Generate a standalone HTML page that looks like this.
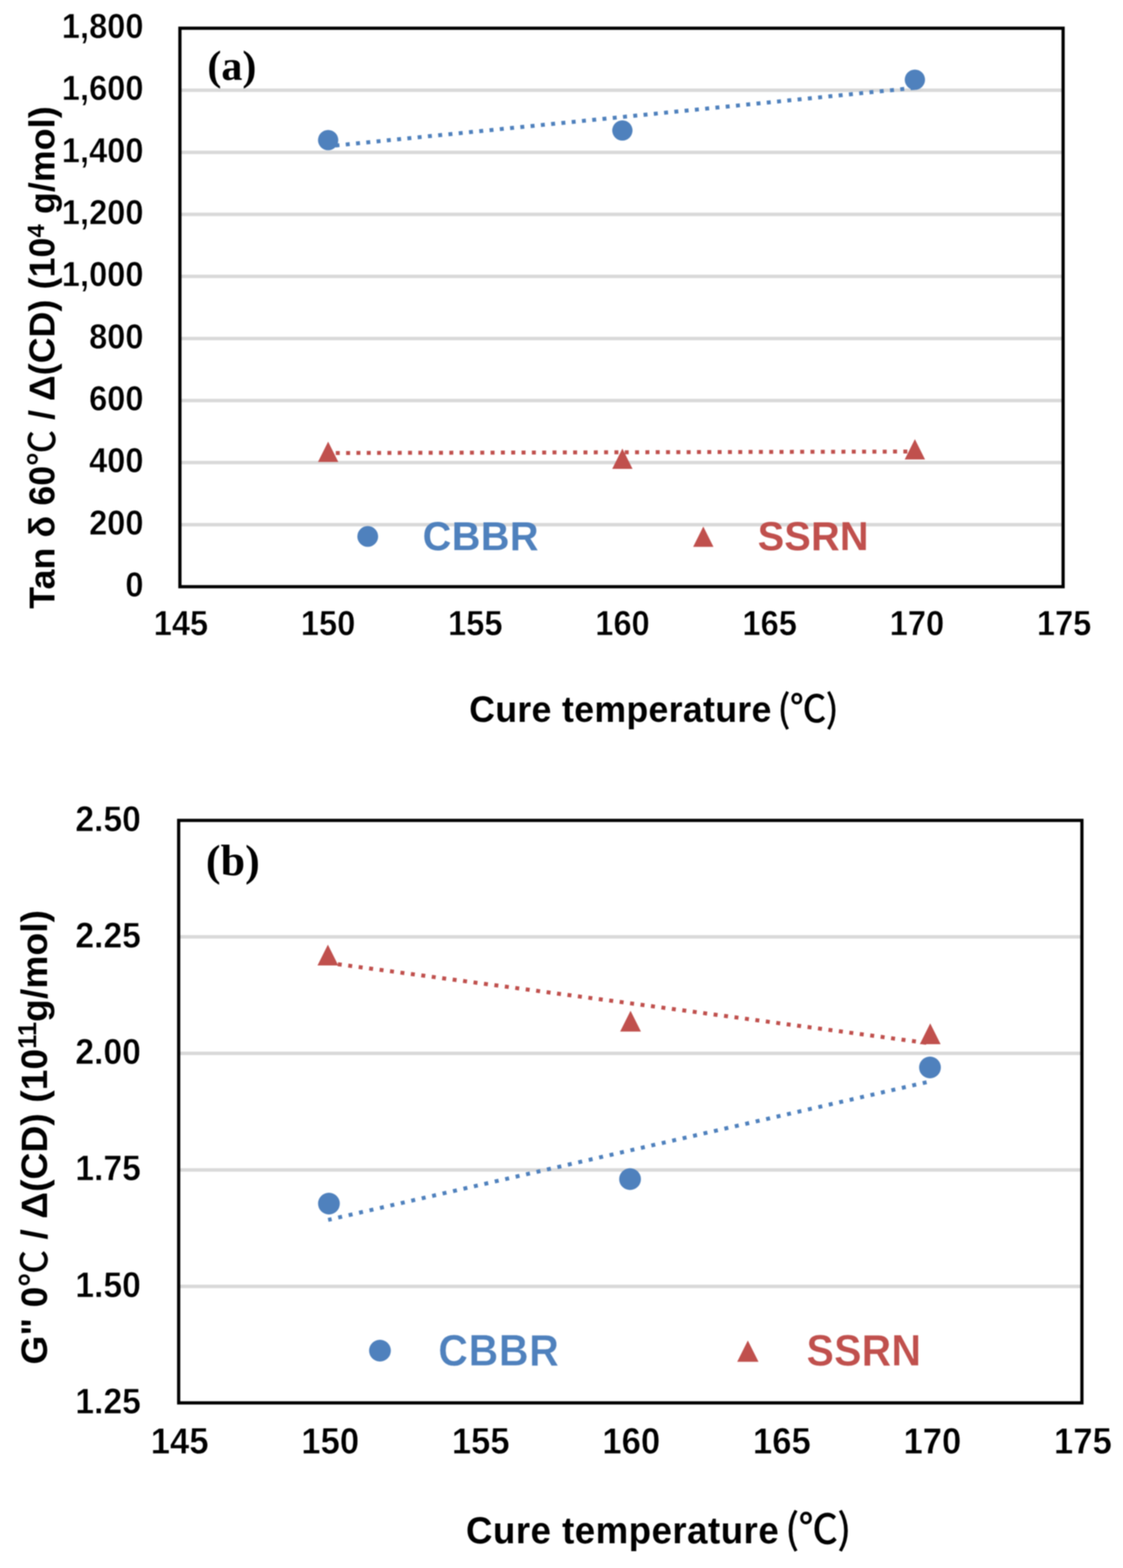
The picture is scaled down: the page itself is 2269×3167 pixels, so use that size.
<!DOCTYPE html>
<html><head><meta charset="utf-8"><title>Cure temperature charts</title>
<style>html,body{margin:0;padding:0;background:#fff;overflow:hidden;}svg{display:block;filter:blur(0.9px);}</style></head>
<body><svg width="2269" height="3167" viewBox="0 0 2269 3167">
<rect width="2269" height="3167" fill="#fff"/>
<line x1="363.5" y1="1059.67" x2="2148" y2="1059.67" stroke="#d9d9d9" stroke-width="7"/>
<line x1="363.5" y1="934.33" x2="2148" y2="934.33" stroke="#d9d9d9" stroke-width="7"/>
<line x1="363.5" y1="809.00" x2="2148" y2="809.00" stroke="#d9d9d9" stroke-width="7"/>
<line x1="363.5" y1="683.67" x2="2148" y2="683.67" stroke="#d9d9d9" stroke-width="7"/>
<line x1="363.5" y1="558.33" x2="2148" y2="558.33" stroke="#d9d9d9" stroke-width="7"/>
<line x1="363.5" y1="433.00" x2="2148" y2="433.00" stroke="#d9d9d9" stroke-width="7"/>
<line x1="363.5" y1="307.67" x2="2148" y2="307.67" stroke="#d9d9d9" stroke-width="7"/>
<line x1="363.5" y1="182.33" x2="2148" y2="182.33" stroke="#d9d9d9" stroke-width="7"/>
<rect x="363.5" y="57" width="1784.5" height="1128" fill="none" stroke="#000" stroke-width="6.5"/>
<text transform="translate(290.00,1205.00) scale(1,1.06)" font-family="Liberation Sans, Arial, Helvetica, sans-serif" font-weight="bold" font-size="66" text-anchor="end" fill="#000" stroke="#fff" stroke-width="0.8" stroke-linejoin="round">0</text>
<text transform="translate(290.00,1079.67) scale(1,1.06)" font-family="Liberation Sans, Arial, Helvetica, sans-serif" font-weight="bold" font-size="66" text-anchor="end" fill="#000" stroke="#fff" stroke-width="0.8" stroke-linejoin="round">200</text>
<text transform="translate(290.00,954.33) scale(1,1.06)" font-family="Liberation Sans, Arial, Helvetica, sans-serif" font-weight="bold" font-size="66" text-anchor="end" fill="#000" stroke="#fff" stroke-width="0.8" stroke-linejoin="round">400</text>
<text transform="translate(290.00,829.00) scale(1,1.06)" font-family="Liberation Sans, Arial, Helvetica, sans-serif" font-weight="bold" font-size="66" text-anchor="end" fill="#000" stroke="#fff" stroke-width="0.8" stroke-linejoin="round">600</text>
<text transform="translate(290.00,703.67) scale(1,1.06)" font-family="Liberation Sans, Arial, Helvetica, sans-serif" font-weight="bold" font-size="66" text-anchor="end" fill="#000" stroke="#fff" stroke-width="0.8" stroke-linejoin="round">800</text>
<text transform="translate(290.00,578.33) scale(1,1.06)" font-family="Liberation Sans, Arial, Helvetica, sans-serif" font-weight="bold" font-size="66" text-anchor="end" fill="#000" stroke="#fff" stroke-width="0.8" stroke-linejoin="round">1,000</text>
<text transform="translate(290.00,453.00) scale(1,1.06)" font-family="Liberation Sans, Arial, Helvetica, sans-serif" font-weight="bold" font-size="66" text-anchor="end" fill="#000" stroke="#fff" stroke-width="0.8" stroke-linejoin="round">1,200</text>
<text transform="translate(290.00,327.67) scale(1,1.06)" font-family="Liberation Sans, Arial, Helvetica, sans-serif" font-weight="bold" font-size="66" text-anchor="end" fill="#000" stroke="#fff" stroke-width="0.8" stroke-linejoin="round">1,400</text>
<text transform="translate(290.00,202.33) scale(1,1.06)" font-family="Liberation Sans, Arial, Helvetica, sans-serif" font-weight="bold" font-size="66" text-anchor="end" fill="#000" stroke="#fff" stroke-width="0.8" stroke-linejoin="round">1,600</text>
<text transform="translate(290.00,77.00) scale(1,1.06)" font-family="Liberation Sans, Arial, Helvetica, sans-serif" font-weight="bold" font-size="66" text-anchor="end" fill="#000" stroke="#fff" stroke-width="0.8" stroke-linejoin="round">1,800</text>
<text transform="translate(365.50,1283.00) scale(1,1.06)" font-family="Liberation Sans, Arial, Helvetica, sans-serif" font-weight="bold" font-size="66" text-anchor="middle" fill="#000" stroke="#fff" stroke-width="0.8" stroke-linejoin="round">145</text>
<text transform="translate(662.92,1283.00) scale(1,1.06)" font-family="Liberation Sans, Arial, Helvetica, sans-serif" font-weight="bold" font-size="66" text-anchor="middle" fill="#000" stroke="#fff" stroke-width="0.8" stroke-linejoin="round">150</text>
<text transform="translate(960.33,1283.00) scale(1,1.06)" font-family="Liberation Sans, Arial, Helvetica, sans-serif" font-weight="bold" font-size="66" text-anchor="middle" fill="#000" stroke="#fff" stroke-width="0.8" stroke-linejoin="round">155</text>
<text transform="translate(1257.75,1283.00) scale(1,1.06)" font-family="Liberation Sans, Arial, Helvetica, sans-serif" font-weight="bold" font-size="66" text-anchor="middle" fill="#000" stroke="#fff" stroke-width="0.8" stroke-linejoin="round">160</text>
<text transform="translate(1555.17,1283.00) scale(1,1.06)" font-family="Liberation Sans, Arial, Helvetica, sans-serif" font-weight="bold" font-size="66" text-anchor="middle" fill="#000" stroke="#fff" stroke-width="0.8" stroke-linejoin="round">165</text>
<text transform="translate(1852.58,1283.00) scale(1,1.06)" font-family="Liberation Sans, Arial, Helvetica, sans-serif" font-weight="bold" font-size="66" text-anchor="middle" fill="#000" stroke="#fff" stroke-width="0.8" stroke-linejoin="round">170</text>
<text transform="translate(2150.00,1283.00) scale(1,1.06)" font-family="Liberation Sans, Arial, Helvetica, sans-serif" font-weight="bold" font-size="66" text-anchor="middle" fill="#000" stroke="#fff" stroke-width="0.8" stroke-linejoin="round">175</text>
<line x1="663" y1="295.4" x2="1849" y2="177.4" stroke="#4f81bd" stroke-width="8" stroke-dasharray="8 12.85" stroke-dashoffset="5.9"/>
<line x1="663" y1="915" x2="1849" y2="912" stroke="#c0504d" stroke-width="8" stroke-dasharray="8 12.85" stroke-dashoffset="5.35"/>
<circle cx="663" cy="283" r="20.5" fill="#4f81bd"/>
<circle cx="1257.5" cy="263.5" r="20.5" fill="#4f81bd"/>
<circle cx="1848.5" cy="161" r="20.5" fill="#4f81bd"/>
<polygon points="642.5,933.0 663,892.0 683.5,933.0" fill="#c0504d"/>
<polygon points="1237.0,947.0 1257.5,906.0 1278.0,947.0" fill="#c0504d"/>
<polygon points="1828.0,928.0 1848.5,887.0 1869.0,928.0" fill="#c0504d"/>
<circle cx="743" cy="1083.5" r="21" fill="#4f81bd"/>
<polygon points="1400.5,1104.5 1421,1063.5 1441.5,1104.5" fill="#c0504d"/>
<text transform="translate(854.00,1110.50) scale(1,1.03)" font-family="Liberation Sans, Arial, Helvetica, sans-serif" font-weight="bold" font-size="80" text-anchor="start" fill="#4f81bd" letter-spacing="1.0">CBBR</text>
<text transform="translate(1531.00,1110.50) scale(1,1.03)" font-family="Liberation Sans, Arial, Helvetica, sans-serif" font-weight="bold" font-size="80" text-anchor="start" fill="#c0504d" letter-spacing="0.5">SSRN</text>
<text x="419" y="161" font-family="Liberation Serif, Times New Roman, serif" font-weight="bold" font-size="85">(a)</text>
<text transform="translate(948,1457.5) scale(1,1.03)" font-family="Liberation Sans, Arial, Helvetica, sans-serif" font-weight="bold" font-size="72" letter-spacing="0.7">Cure temperature <tspan font-family="Noto Sans CJK SC, Noto Sans CJK JP, WenQuanYi Zen Hei, sans-serif" font-weight="normal" font-size="73" letter-spacing="0" dx="-8.5" stroke="#000" stroke-width="1.5">(℃)</tspan></text>
<text transform="translate(110,1229.5) rotate(-90)" font-family="Liberation Sans, Arial, Helvetica, sans-serif" font-weight="bold" font-size="72" letter-spacing="0.3">Tan δ 60<tspan font-family="Noto Sans CJK SC, Noto Sans CJK JP, WenQuanYi Zen Hei, sans-serif" font-weight="normal" font-size="72" stroke="#000" stroke-width="1.2">℃</tspan> / Δ(CD) (10<tspan font-size="48" dy="-21">4</tspan><tspan dy="21"> g/mol)</tspan></text>
<line x1="361" y1="2598.20" x2="2186" y2="2598.20" stroke="#d9d9d9" stroke-width="7"/>
<line x1="361" y1="2362.90" x2="2186" y2="2362.90" stroke="#d9d9d9" stroke-width="7"/>
<line x1="361" y1="2127.60" x2="2186" y2="2127.60" stroke="#d9d9d9" stroke-width="7"/>
<line x1="361" y1="1892.30" x2="2186" y2="1892.30" stroke="#d9d9d9" stroke-width="7"/>
<rect x="361" y="1657" width="1825" height="1176.5" fill="none" stroke="#000" stroke-width="6.5"/>
<text transform="translate(284.50,2855.00) scale(1,1.07)" font-family="Liberation Sans, Arial, Helvetica, sans-serif" font-weight="bold" font-size="68" text-anchor="end" fill="#000" stroke="#fff" stroke-width="0.8" stroke-linejoin="round">1.25</text>
<text transform="translate(284.50,2619.70) scale(1,1.07)" font-family="Liberation Sans, Arial, Helvetica, sans-serif" font-weight="bold" font-size="68" text-anchor="end" fill="#000" stroke="#fff" stroke-width="0.8" stroke-linejoin="round">1.50</text>
<text transform="translate(284.50,2384.40) scale(1,1.07)" font-family="Liberation Sans, Arial, Helvetica, sans-serif" font-weight="bold" font-size="68" text-anchor="end" fill="#000" stroke="#fff" stroke-width="0.8" stroke-linejoin="round">1.75</text>
<text transform="translate(284.50,2149.10) scale(1,1.07)" font-family="Liberation Sans, Arial, Helvetica, sans-serif" font-weight="bold" font-size="68" text-anchor="end" fill="#000" stroke="#fff" stroke-width="0.8" stroke-linejoin="round">2.00</text>
<text transform="translate(284.50,1913.80) scale(1,1.07)" font-family="Liberation Sans, Arial, Helvetica, sans-serif" font-weight="bold" font-size="68" text-anchor="end" fill="#000" stroke="#fff" stroke-width="0.8" stroke-linejoin="round">2.25</text>
<text transform="translate(284.50,1678.50) scale(1,1.07)" font-family="Liberation Sans, Arial, Helvetica, sans-serif" font-weight="bold" font-size="68" text-anchor="end" fill="#000" stroke="#fff" stroke-width="0.8" stroke-linejoin="round">2.50</text>
<text transform="translate(363.00,2936.00) scale(1,1.07)" font-family="Liberation Sans, Arial, Helvetica, sans-serif" font-weight="bold" font-size="70" text-anchor="middle" fill="#000" stroke="#fff" stroke-width="0.8" stroke-linejoin="round">145</text>
<text transform="translate(667.17,2936.00) scale(1,1.07)" font-family="Liberation Sans, Arial, Helvetica, sans-serif" font-weight="bold" font-size="70" text-anchor="middle" fill="#000" stroke="#fff" stroke-width="0.8" stroke-linejoin="round">150</text>
<text transform="translate(971.33,2936.00) scale(1,1.07)" font-family="Liberation Sans, Arial, Helvetica, sans-serif" font-weight="bold" font-size="70" text-anchor="middle" fill="#000" stroke="#fff" stroke-width="0.8" stroke-linejoin="round">155</text>
<text transform="translate(1275.50,2936.00) scale(1,1.07)" font-family="Liberation Sans, Arial, Helvetica, sans-serif" font-weight="bold" font-size="70" text-anchor="middle" fill="#000" stroke="#fff" stroke-width="0.8" stroke-linejoin="round">160</text>
<text transform="translate(1579.67,2936.00) scale(1,1.07)" font-family="Liberation Sans, Arial, Helvetica, sans-serif" font-weight="bold" font-size="70" text-anchor="middle" fill="#000" stroke="#fff" stroke-width="0.8" stroke-linejoin="round">165</text>
<text transform="translate(1883.83,2936.00) scale(1,1.07)" font-family="Liberation Sans, Arial, Helvetica, sans-serif" font-weight="bold" font-size="70" text-anchor="middle" fill="#000" stroke="#fff" stroke-width="0.8" stroke-linejoin="round">170</text>
<text transform="translate(2188.00,2936.00) scale(1,1.07)" font-family="Liberation Sans, Arial, Helvetica, sans-serif" font-weight="bold" font-size="70" text-anchor="middle" fill="#000" stroke="#fff" stroke-width="0.8" stroke-linejoin="round">175</text>
<line x1="663" y1="2463.9" x2="1880" y2="2184" stroke="#4f81bd" stroke-width="8" stroke-dasharray="8 13.64" stroke-dashoffset="0.75"/>
<line x1="664" y1="1945" x2="1880" y2="2107.5" stroke="#c0504d" stroke-width="8" stroke-dasharray="8 13.28" stroke-dashoffset="2.58"/>
<circle cx="664.6" cy="2431" r="22" fill="#4f81bd"/>
<circle cx="1273" cy="2381.5" r="22" fill="#4f81bd"/>
<circle cx="1879" cy="2156" r="22" fill="#4f81bd"/>
<polygon points="641.5,1950.0 662.5,1908.0 683.5,1950.0" fill="#c0504d"/>
<polygon points="1253.0,2083.5 1274,2041.5 1295.0,2083.5" fill="#c0504d"/>
<polygon points="1858.5,2109.0 1879.5,2067.0 1900.5,2109.0" fill="#c0504d"/>
<circle cx="767.7" cy="2728" r="22" fill="#4f81bd"/>
<polygon points="1489.5,2750.5 1511,2707.5 1532.5,2750.5" fill="#c0504d"/>
<text transform="translate(885.50,2757.50) scale(1,1.07)" font-family="Liberation Sans, Arial, Helvetica, sans-serif" font-weight="bold" font-size="83" text-anchor="start" fill="#4f81bd" stroke="#fff" stroke-width="0.6" stroke-linejoin="round" letter-spacing="1.3">CBBR</text>
<text transform="translate(1629.50,2757.50) scale(1,1.07)" font-family="Liberation Sans, Arial, Helvetica, sans-serif" font-weight="bold" font-size="83" text-anchor="start" fill="#c0504d" stroke="#fff" stroke-width="0.6" stroke-linejoin="round" letter-spacing="0.3">SSRN</text>
<text x="416" y="1768" font-family="Liberation Serif, Times New Roman, serif" font-weight="bold" font-size="89">(b)</text>
<text transform="translate(941.5,3116.5) scale(1,1.03)" font-family="Liberation Sans, Arial, Helvetica, sans-serif" font-weight="bold" font-size="74" letter-spacing="1.0">Cure temperature <tspan font-family="Noto Sans CJK SC, Noto Sans CJK JP, WenQuanYi Zen Hei, sans-serif" font-weight="normal" font-size="79" letter-spacing="0" dx="-8.8" stroke="#000" stroke-width="1.5">(℃)</tspan></text>
<text transform="translate(94.5,2756) rotate(-90)" font-family="Liberation Sans, Arial, Helvetica, sans-serif" font-weight="bold" font-size="75" letter-spacing="0.2">G" 0<tspan font-family="Noto Sans CJK SC, Noto Sans CJK JP, WenQuanYi Zen Hei, sans-serif" font-weight="normal" font-size="74" stroke="#000" stroke-width="1.2">℃</tspan> / Δ(CD) (10<tspan font-size="51" dy="-22">11</tspan><tspan dy="22">g/mol)</tspan></text>
</svg></body></html>
